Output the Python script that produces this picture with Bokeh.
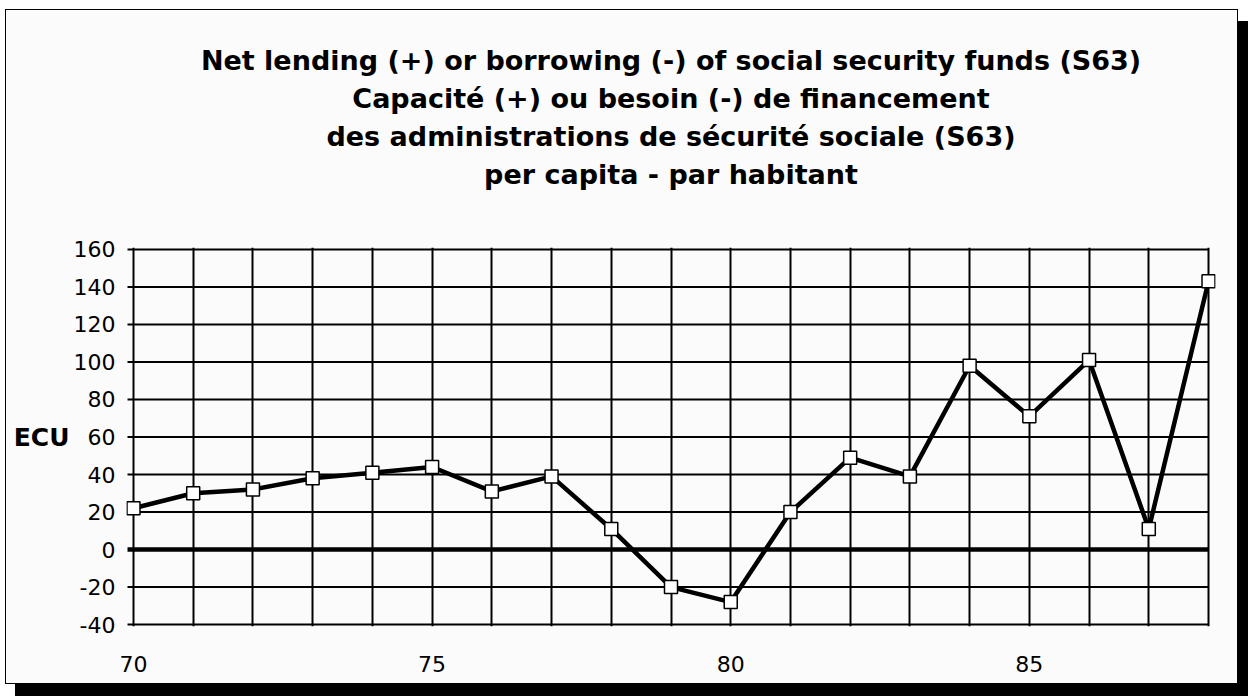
from bokeh.plotting import figure
from bokeh.models import Title, FixedTicker, SingleIntervalTicker, Range1d, ColumnDataSource
from bokeh.embed import file_html
from bokeh.resources import INLINE

years = list(range(70, 89))
values = [22, 30, 32, 38, 41, 44, 31, 39, 11, -20, -28, 20, 49, 39, 98, 71, 101, 11, 143]
x_tick_labels = [70, 75, 80, 85]
y_ticks = [-40, -20, 0, 20, 40, 60, 80, 100, 120, 140, 160]
title_lines = [
    "Net lending (+) or borrowing (-) of social security funds (S63)",
    "Capacité (+) ou besoin (-) de financement",
    "des administrations de sécurité sociale (S63)",
    "per capita - par habitant",
]
unit_label = "ECU"

BG = "#fbfbfb"
FONT = "DejaVu Sans"
XPAD = 0.117
YPAD = 1.0
TICK_OUT = 0.1

x0, x1 = years[0], years[-1]
y0, y1 = y_ticks[0], y_ticks[-1]

p = figure(
    width=1233, height=675,
    output_backend="svg", toolbar_location=None,
    x_range=Range1d(x0 - XPAD, x1 + XPAD), y_range=Range1d(y0 - YPAD, y1 + YPAD),
    min_border_left=120, min_border_right=24, min_border_top=237, min_border_bottom=59,
    background_fill_color=BG, border_fill_color=BG,
    styles={"border": "1.5px solid black", "box-shadow": "10px 12px 0px black",
            "margin-left": "5px", "margin-top": "9px"},
)
p.outline_line_color = None
p.title.visible = False

# spacer between plot and title block
p.add_layout(Title(text=" ", text_font=FONT, text_font_size="27px", standoff=22), "above")
# stacked title lines (first added sits nearest the plot)
for line in reversed(title_lines):
    p.add_layout(Title(text=line, align="center", text_font=FONT, text_font_size="27px",
                       text_font_style="bold", text_color="black", standoff=5), "above")

# vertical grid: one line per year
p.xgrid.ticker = SingleIntervalTicker(interval=1)
p.xgrid.grid_line_color = "black"
p.xgrid.grid_line_width = 2
p.xgrid.grid_line_alpha = 1
p.ygrid.grid_line_color = None

hsrc = ColumnDataSource(data=dict(
    y=y_ticks,
    x_start=[x0 - TICK_OUT] * len(y_ticks),
    x_end=[x1] * len(y_ticks),
    w=[4.5 if t == 0 else 2 for t in y_ticks],
))
p.segment(x0="x_start", y0="y", x1="x_end", y1="y", source=hsrc,
          line_color="black", line_width="w")

# x axis
p.xaxis.ticker = FixedTicker(ticks=x_tick_labels)
p.xaxis.major_tick_line_color = None
p.xaxis.minor_tick_line_color = None
p.xaxis.axis_line_color = None
p.xaxis.major_label_text_font = FONT
p.xaxis.major_label_text_font_size = "22px"
p.xaxis.major_label_text_color = "black"
p.xaxis.major_label_standoff = 23

# y axis
yax = p.yaxis[0]
yax.ticker = FixedTicker(ticks=y_ticks)
yax.major_tick_line_color = None
yax.minor_tick_line_color = None
yax.axis_line_color = None
yax.major_label_text_font = FONT
yax.major_label_text_font_size = "22px"
yax.major_label_text_color = "black"
yax.major_label_standoff = 5
yax.major_label_overrides = {t: str(t) for t in y_ticks}
yax.axis_label = unit_label
yax.axis_label_text_font = FONT
yax.axis_label_text_font_size = "25px"
yax.axis_label_text_font_style = "bold"
yax.axis_label_text_color = "black"
yax.axis_label_standoff = 1
try:
    yax.axis_label_orientation = "horizontal"
except Exception:
    pass

src = ColumnDataSource(data=dict(x=years, y=values))
p.line("x", "y", source=src, line_color="black", line_width=4.5)
p.scatter("x", "y", source=src, marker="square", size=13,
          fill_color="white", line_color="black", line_width=1.5)

open("out.html", "w").write(file_html(p, INLINE))
